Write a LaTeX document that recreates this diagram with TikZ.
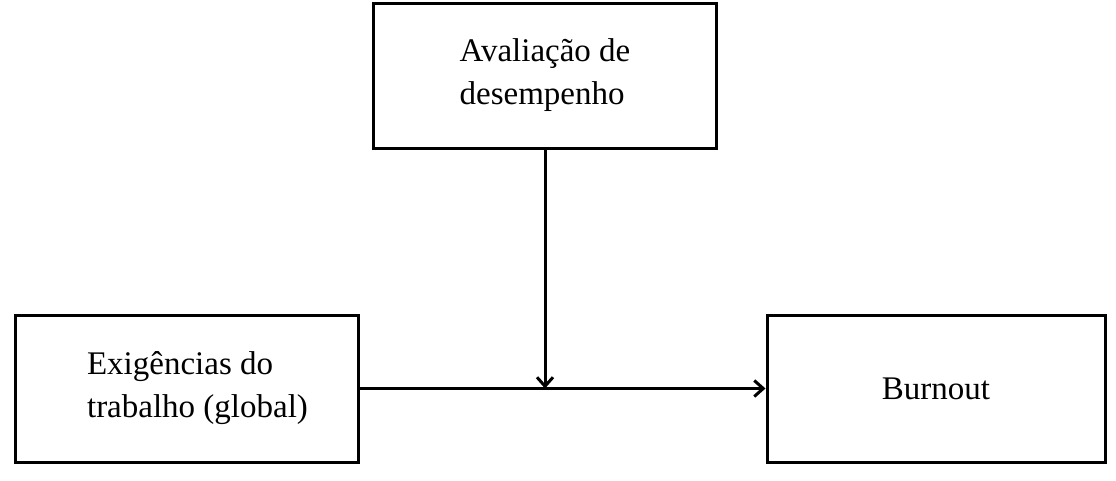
\documentclass[tikz,border=0pt]{standalone}
\usepackage{fontspec}
\setmainfont{Liberation Serif}
\usetikzlibrary{arrows.meta}
\begin{document}
\begin{tikzpicture}[x=1pt,y=-1pt,line width=3pt,
                    -{Straight Barb[length=9pt,width=16pt]},
                    main node/.style={rectangle,draw,-,align=left,inner sep=0pt,
                      font=\fontsize{33}{43}\selectfont}]
  \useasboundingbox (0,0) rectangle (1116,480);
  \node[main node,minimum width=343pt,minimum height=145pt] (1) at (545,75.5) {Avaliação de\\desempenho};
  \node[main node,minimum width=343pt,minimum height=147pt] (2) at (186.5,388.5) {\hspace*{22pt}Exigências do\\\hspace*{22pt}trabalho (global)};
  \node[main node,minimum width=338pt,minimum height=147pt] (3) at (936,388.5) {Burnout};
  \coordinate (j) at (1.south |- 2.east);

  \path (2) edge (3)
        (1) edge (j);
\end{tikzpicture}
\end{document}
